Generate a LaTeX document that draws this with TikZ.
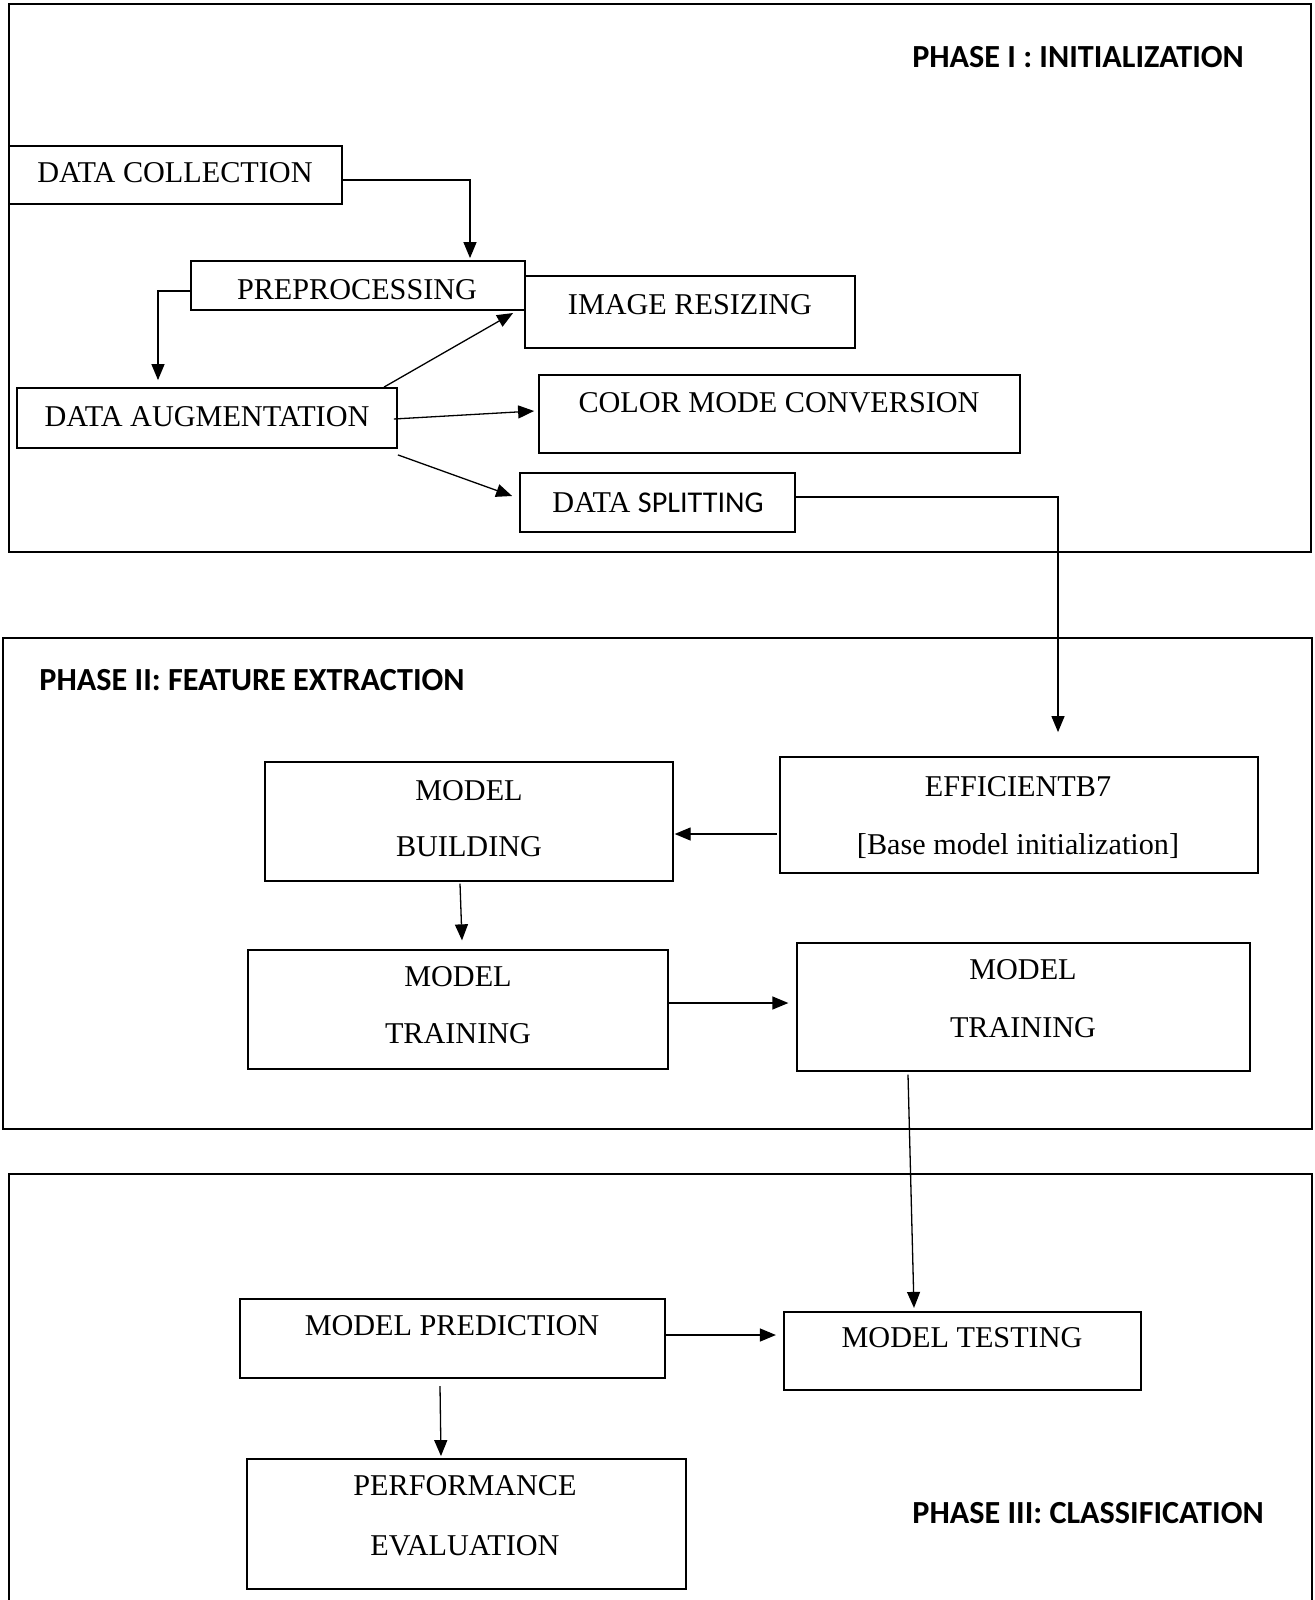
\documentclass[tikz,border=0pt]{standalone}
\usepackage{fontspec}
\setmainfont{Liberation Serif}
\newfontfamily\calib{Carlito}
\usetikzlibrary{arrows.meta}
\begin{document}
\begin{tikzpicture}[x=1pt,y=-1pt,
  panel/.style={draw, line width=2.8pt},
  box/.style={draw, line width=1.8pt, inner sep=0pt},
  txt/.style={inner sep=0pt, font=\fontsize{30.2}{35}\selectfont},
  ptitle/.style={inner sep=0pt, font=\calib\bfseries\fontsize{32.2}{37}\selectfont},
  arr/.style={line width=1.3pt, -{Triangle[length=16pt,width=13pt]}}]
\useasboundingbox[fill=white] (0,0) rectangle (1314,1600);
\clip (0,0) rectangle (1314,1600);

% panels
\draw[panel] (9,4) rectangle (1311,552);
\draw[panel] (3,638) rectangle (1312,1129);
\draw[panel] (9,1174) rectangle (1312,1620);

% phase titles
\node[ptitle] (t1) at (1078,57) {PHASE I : INITIALIZATION};
\node[ptitle] (t2) at (252,680) {PHASE II: FEATURE EXTRACTION};
\node[ptitle] (t3) at (1088,1513) {PHASE III: CLASSIFICATION};

% phase I boxes
\node[box, minimum width=333pt, minimum height=58pt] (dc) at (175.5,175) {};
\node[txt] (dct) at (175,173) {DATA COLLECTION};
\node[box, minimum width=334pt, minimum height=49pt] (prep) at (358,285.5) {};
\node[txt] (prept) at (357,290) {PREPROCESSING};
\node[box, minimum width=330pt, minimum height=72pt] (ir) at (690,312) {};
\node[txt] (irt) at (690,305) {IMAGE RESIZING};
\node[box, minimum width=380pt, minimum height=60pt] (da) at (207,418) {};
\node[txt] (dat) at (207,417) {DATA AUGMENTATION};
\node[box, minimum width=481pt, minimum height=78pt] (cmc) at (779.5,414) {};
\node[txt] (cmct) at (779,403) {COLOR MODE CONVERSION};
\node[box, minimum width=275pt, minimum height=59pt] (ds) at (657.5,502.5) {};
\node[txt] (dst) at (658,503) {DATA {\calib SPLITTING}};

% phase II boxes
\node[box, minimum width=478pt, minimum height=116pt] (eff) at (1019,815) {};
\node[txt] (efft1) at (1018,787) {EFFICIENTB7};
\node[txt, anchor=base] (efft2) at (1018,854) {[Base model initialization]};
\node[box, line width=1.3pt, minimum width=408pt, minimum height=119pt] (mb) at (469,821.5) {};
\node[txt] (mbt1) at (469,791) {MODEL};
\node[txt] (mbt2) at (469,847) {BUILDING};
\node[box, line width=1.3pt, minimum width=420pt, minimum height=119pt] (mt1) at (458,1009.5) {};
\node[txt] (mt1t1) at (458,977) {MODEL};
\node[txt] (mt1t2) at (458,1034) {TRAINING};
\node[box, line width=1.3pt, minimum width=453pt, minimum height=128pt] (mt2) at (1023.5,1007) {};
\node[txt] (mt2t1) at (1023,970) {MODEL};
\node[txt] (mt2t2) at (1023,1028) {TRAINING};

% phase III boxes
\node[box, line width=2.2pt, minimum width=425pt, minimum height=79pt] (mp) at (452.5,1338.5) {};
\node[txt] (mpt) at (452,1326) {MODEL PREDICTION};
\node[box, line width=2.2pt, minimum width=357pt, minimum height=78pt] (mtest) at (962.5,1351) {};
\node[txt] (mtestt) at (962,1338) {MODEL TESTING};
\node[box, minimum width=439pt, minimum height=130pt] (pe) at (466.5,1524) {};
\node[txt] (pet1) at (465,1486) {PERFORMANCE};
\node[txt] (pet2) at (465,1546) {EVALUATION};

% connectors
\draw[arr] ([yshift=-5pt]dc.east) -| ([xshift=112pt,yshift=2pt]prep.north);
\draw[arr] ([yshift=-5.5pt]prep.west) -| ([xshift=-49pt,yshift=7pt]da.north);
\draw[arr] ([xshift=177pt]da.north) -- ([xshift=-11pt,yshift=-1pt]ir.west);
\draw[arr] ([xshift=-4pt,yshift=-1pt]da.east) -- ([xshift=-4pt,yshift=3pt]cmc.west);
\draw[arr] ([yshift=-6pt]da.south east) -- ([xshift=-7pt,yshift=6.5pt]ds.west);
\draw[arr] ([yshift=5.5pt]ds.east) -| ([xshift=39pt,yshift=24pt]eff.north);
\draw[arr] ([xshift=-2pt,yshift=-19pt]eff.west) -- ([xshift=1pt,yshift=-12.5pt]mb.east);
\draw[arr] ([xshift=-9pt,yshift=-2pt]mb.south) -- ([xshift=4pt,yshift=9pt]mt1.north);
\draw[arr] ([yshift=6.5pt]mt1.east) -- ([xshift=-8pt,yshift=4pt]mt2.west);
\draw[arr] ([xshift=-115.5pt,yshift=-3pt]mt2.south) -- ([xshift=-48.5pt,yshift=3pt]mtest.north);
\draw[arr] ([xshift=-2pt,yshift=3.5pt]mp.east) -- ([xshift=-7pt,yshift=16pt]mtest.west);
\draw[arr] ([xshift=-12.5pt,yshift=-7pt]mp.south) -- ([xshift=-25.5pt,yshift=2pt]pe.north);
\end{tikzpicture}
\end{document}
